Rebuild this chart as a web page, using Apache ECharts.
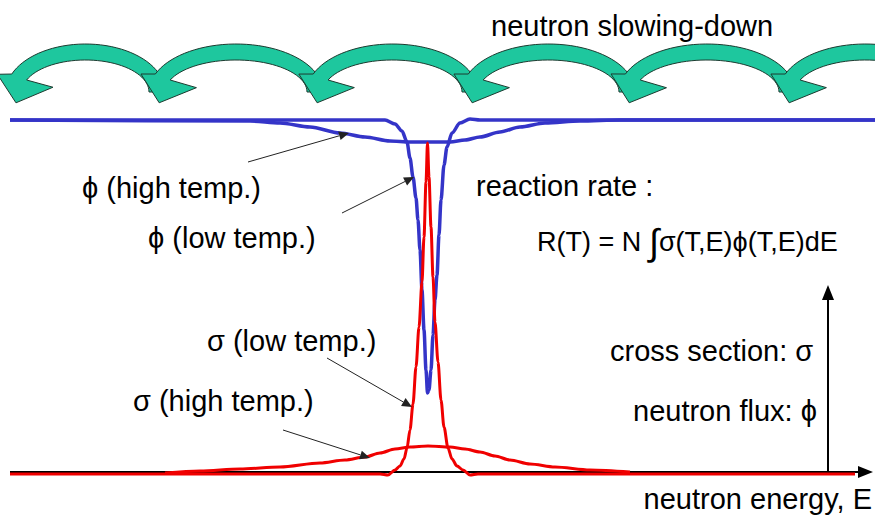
<!DOCTYPE html>
<html>
<head>
<meta charset="utf-8">
<script src="https://cdn.jsdelivr.net/npm/echarts@6/dist/echarts.min.js"></script>
<style>
html, body { margin: 0; padding: 0; background: #fff; }
#chart { width: 875px; height: 517px; }
</style>
</head>
<body>
<div id="chart"></div>
<script>
// x = neutron energy, y = sigma / flux (arbitrary units)
const phiLow = [[10, 352], [385, 352], [395, 348], [402, 341], [407, 330], [410, 314], [413, 295],
  [416, 274], [418, 252], [420, 222], [422, 182], [424, 142], [426, 102], [427.5, 79], [429, 82],
  [431, 102], [433, 137], [435, 172], [437, 197], [439, 237], [441, 272], [444, 307], [447, 325],
  [452, 339], [460, 349], [470, 353], [480, 352], [875, 352]]
const phiHigh = [[10, 352], [250, 351], [280, 349], [310, 345], [340, 339], [365, 335], [390, 331],
  [410, 330], [428, 330], [450, 330], [465, 332], [480, 335], [500, 340], [520, 345], [545, 349],
  [580, 351], [620, 352], [875, 352]]
const sigLow = [[10, -2], [380, -2], [388, -3], [395, 2], [400, 6], [404, 13], [407, 24], [410, 42],
  [413, 68], [416, 105], [419, 145], [422, 190], [424, 235], [426, 290], [427.5, 329], [429, 295],
  [431, 245], [433, 195], [435, 150], [438, 110], [441, 72], [444, 45], [448, 24], [452, 13],
  [457, 6], [463, 2], [470, -3], [478, -2], [855, -2]]
const sigHigh = [[165, -1], [200, 1], [240, 3], [280, 5], [320, 9], [345, 12], [365, 15], [380, 19],
  [395, 23], [410, 25], [428, 26], [450, 25], [465, 23], [480, 20], [495, 16], [510, 12], [530, 8],
  [555, 5], [590, 2], [630, 0]]
// slowing-down hops: [head energy, tail energy]
const slowArrows = [[14, 157], [157, 315], [315, 470], [470, 627], [627, 787], [787, 944]]
// label pointers: [x1, y1, x2, y2]
const pointers = [[248, 310, 349, 339], [342, 259, 414, 295], [327, 114, 412, 65], [283, 42, 370, 14]]
// sketch axes: [x1, y1, x2, y2]
const axisArrows = [[10, 0, 873, 0], [828, 0, 828, 187]]

const FONT = '"Liberation Sans", Arial, sans-serif'

function arrowRender(len, half, lw, color) {
    return function (params, api) {
        const a = api.coord([api.value(0), api.value(1)])
        const b = api.coord([api.value(2), api.value(3)])
        const dx = b[0] - a[0], dy = b[1] - a[1]
        const d = Math.hypot(dx, dy)
        const ux = dx / d, uy = dy / d
        const bx = b[0] - ux * len, by = b[1] - uy * len
        return {
            type: 'group',
            children: [
                { type: 'line', shape: { x1: a[0], y1: a[1], x2: bx, y2: by }, style: { stroke: color, lineWidth: lw } },
                { type: 'polygon', shape: { points: [[b[0], b[1]], [bx - uy * half, by + ux * half], [bx + uy * half, by - ux * half]] }, style: { fill: color } }
            ]
        }
    }
}

function slowRender(params, api) {
    const head = api.value(0), tail = api.value(1)
    const mid = (head + tail) / 2
    const c = api.coord([mid, 380])
    const r = api.coord([tail, 420])
    const rx = r[0] - c[0], ry = c[1] - r[1]
    const h = 8
    const te = 158 * Math.PI / 180
    const outer = [], inner = []
    for (let i = 0; i <= 40; i++) {
        const t = te * i / 40
        outer.push([c[0] + (rx + h) * Math.cos(t), c[1] - (ry + h) * Math.sin(t)])
        inner.push([c[0] + (rx - h) * Math.cos(t), c[1] - (ry - h) * Math.sin(t)])
    }
    const p = [c[0] + rx * Math.cos(te), c[1] - ry * Math.sin(te)]
    const ta = 176 * Math.PI / 180
    let dx = -rx * Math.sin(ta), dy = -ry * Math.cos(ta)
    const dl = Math.hypot(dx, dy)
    dx /= dl; dy /= dl
    const nx = -dy, ny = dx
    const tip = [p[0] + dx * 26, p[1] + dy * 26]
    const barbOut = [p[0] + nx * 22, p[1] + ny * 22]
    const barbIn = [p[0] - nx * 34, p[1] - ny * 34 + 6]
    const pts = outer.concat([barbOut, tip, barbIn], inner.reverse())
    return {
        type: 'polygon',
        shape: { points: pts },
        style: { fill: '#1ec79e', stroke: '#1d3b30', lineWidth: 1 }
    }
}

function label(text, x, y, size, align, rich) {
    return {
        type: 'text', x: x, y: y,
        style: {
            text: text, font: size + 'px ' + FONT, fill: '#000',
            align: align || 'left', verticalAlign: 'middle',
            textAlign: align || 'left', textVerticalAlign: 'middle',
            rich: rich
        }
    }
}

const myChart = echarts.init(document.getElementById('chart'), null, { renderer: 'svg' })
myChart.setOption({
    animation: false,
    grid: { left: 0, right: 0, top: 0, bottom: 0 },
    xAxis: { type: 'value', min: 0, max: 875, show: false },
    yAxis: { type: 'value', min: -45, max: 472, show: false },
    graphic: [
        label('neutron slowing-down', 491, 26, 29),
        label('ϕ (high temp.)', 82, 188, 29),
        label('ϕ (low temp.)', 148, 238, 29),
        label('reaction rate :', 476, 186, 29),
        label('R(T) = N {int|∫}σ(T,E)ϕ(T,E)dE', 537, 242, 27, 'left',
            { int: { fontSize: 37, fontFamily: FONT, fill: '#000' } }),
        label('σ (low temp.)', 207, 341, 29),
        label('σ (high temp.)', 133, 401, 29),
        label('cross section: σ', 610, 351, 29),
        label('neutron flux: ϕ', 633, 411, 29),
        label('neutron energy, E', 872, 499, 29, 'right')
    ],
    series: [
        { type: 'custom', name: 'slowing-down', renderItem: slowRender, data: slowArrows, z: 1 },
        { type: 'custom', name: 'axes', renderItem: arrowRender(15, 6, 2, '#000'), data: axisArrows, z: 2 },
        { type: 'line', name: 'phi high', data: phiHigh, showSymbol: false, smooth: 0.3, smoothMonotone: 'x',
          lineStyle: { color: '#3434c8', width: 3.5 }, z: 3 },
        { type: 'line', name: 'phi low', data: phiLow, showSymbol: false, smooth: 0.3, smoothMonotone: 'x',
          lineStyle: { color: '#3434c8', width: 3.5 }, z: 3 },
        { type: 'line', name: 'sigma high', data: sigHigh, showSymbol: false, smooth: 0.3, smoothMonotone: 'x',
          lineStyle: { color: '#f00000', width: 3 }, z: 4 },
        { type: 'line', name: 'sigma low', data: sigLow, showSymbol: false, smooth: 0.3, smoothMonotone: 'x',
          lineStyle: { color: '#f00000', width: 3 }, z: 4 },
        { type: 'custom', name: 'pointers', renderItem: arrowRender(10, 4.5, 1, '#222'), data: pointers, z: 5 }
    ]
})
</script>
</body>
</html>
